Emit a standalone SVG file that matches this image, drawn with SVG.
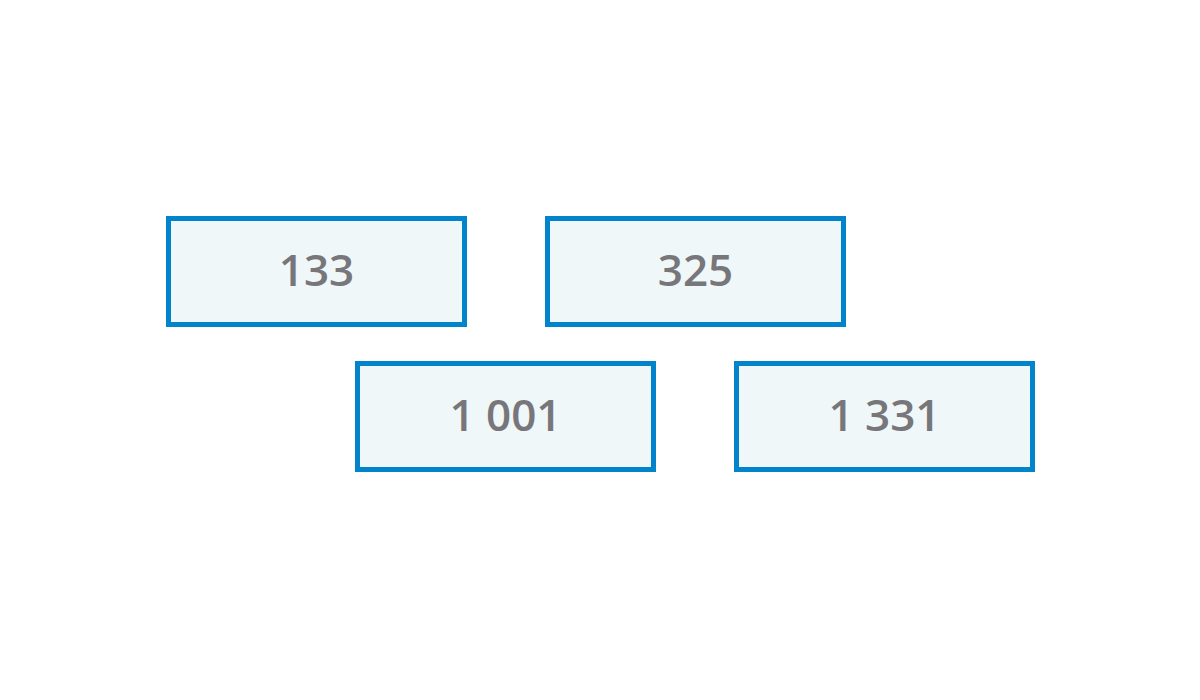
<svg xmlns="http://www.w3.org/2000/svg" width="1200" height="700" viewBox="0 0 1200 700">
<style>
.box{fill:#eff7f9;stroke:#0284cc;stroke-width:5}
.lbl{font-family:"Open Sans","Liberation Sans",sans-serif;font-weight:600;font-size:44px;fill:#77767a;text-anchor:middle}
</style>
<rect width="1200" height="700" fill="#ffffff"/>
<g id="connectors"></g>
<g id="n133"><rect class="box" x="168.5" y="218.5" width="296" height="106"/><text class="lbl" x="316.5" y="286">133</text></g>
<g id="n325"><rect class="box" x="547.5" y="218.5" width="296" height="106"/><text class="lbl" x="695.5" y="286">325</text></g>
<g id="n1001"><rect class="box" x="357.5" y="363.5" width="296" height="106"/><text class="lbl" x="505.5" y="431">1 001</text></g>
<g id="n1331"><rect class="box" x="736.5" y="363.5" width="296" height="106"/><text class="lbl" x="884.5" y="431">1 331</text></g>
</svg>
